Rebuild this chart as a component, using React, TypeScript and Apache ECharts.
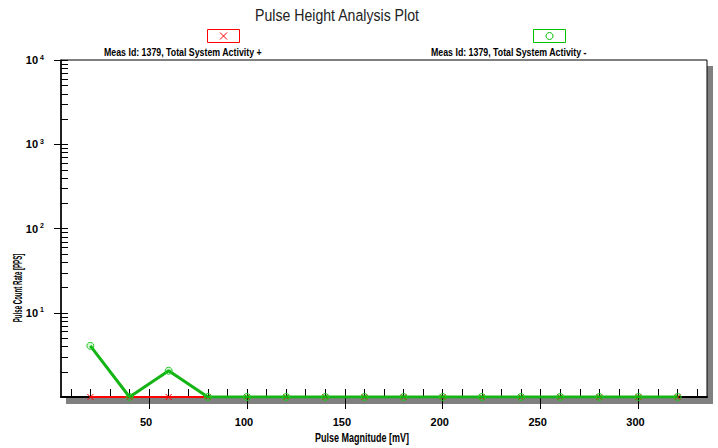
import React, { useEffect, useRef } from 'react';
import * as echarts from 'echarts';

const chartTitle = 'Pulse Height Analysis Plot';
const positiveName = 'Meas Id: 1379, Total System Activity +';
const negativeName = 'Meas Id: 1379, Total System Activity -';
const xAxisTitle = 'Pulse Magnitude [mV]';
const yAxisTitle = 'Pulse Count Rate [PPS]';

const pulseMagnitudes = [20, 40, 60, 80, 100, 120, 140, 160, 180, 200, 220, 240, 260, 280, 300, 320];
const positiveRates = [1, 1, 1, 1, 1, 1, 1, 1, 1, 1, 1, 1, 1, 1, 1, 1];
const negativeRates = [4.05, 1, 2.05, 1, 1, 1, 1, 1, 1, 1, 1, 1, 1, 1, 1, 1];

const xMajorTicks = [50, 100, 150, 200, 250, 300];
const xMinorTicks = [10, 20, 30, 40, 50, 60, 70, 80, 90, 100, 110, 120, 130, 140, 150, 160, 170, 180, 190, 200, 210, 220, 230, 240, 250, 260, 270, 280, 290, 300, 310, 320, 330];
const yDecades = [1, 10, 100, 1000, 10000];
const yMinorMultipliers = [2, 3, 4, 5, 6, 7, 8, 9];

const X_MIN = 5;
const X_MAX = 335;
const FONT = "'Liberation Sans', Arial, sans-serif";

const GRID = { left: 61, top: 60, width: 646, height: 337 };

export default function App() {
  const ref = useRef<HTMLDivElement>(null);
  useEffect(() => {
    const chart = echarts.init(ref.current!, null, { renderer: 'svg' });
    const yMinorValues: number[] = [];
    yDecades.slice(0, -1).forEach((d) => yMinorMultipliers.forEach((m) => yMinorValues.push(d * m)));

    const option: any = {
      animation: false,
      backgroundColor: '#fff',
      grid: {
        ...GRID,
        show: true,
        backgroundColor: '#fff',
        borderColor: '#000',
        borderWidth: 1,
        containLabel: false,
      },
      xAxis: [
        {
          type: 'value',
          min: X_MIN,
          max: X_MAX,
          position: 'bottom',
          axisLine: { show: true, lineStyle: { color: '#000', width: 2 } },
          axisTick: { show: true, inside: false, length: 12, customValues: xMajorTicks, lineStyle: { color: '#000', width: 1 } },
          axisLabel: {
            show: true,
            customValues: xMajorTicks,
            margin: 19,
            color: '#000',
            fontFamily: FONT,
            fontSize: 11,
            fontWeight: 'bold',
            padding: [0, 6, 0, 0],
          },
          splitLine: { show: false },
        },
        {
          type: 'value',
          min: X_MIN,
          max: X_MAX,
          position: 'bottom',
          axisLine: { show: false },
          axisTick: { show: true, inside: true, length: 8, customValues: xMinorTicks, lineStyle: { color: '#000', width: 1 } },
          axisLabel: { show: false },
          splitLine: { show: false },
        },
      ],
      yAxis: [
        {
          type: 'log',
          logBase: 10,
          min: 1,
          max: 10000,
          position: 'left',
          axisLine: { show: true, lineStyle: { color: '#000', width: 1.5 } },
          axisTick: { show: true, inside: false, length: 7, lineStyle: { color: '#000', width: 1 } },
          axisLabel: {
            show: true,
            margin: 17,
            showMinLabel: false,
            formatter: (v: number) => (v <= 1 ? '' : `{b|10}{s|${Math.round(Math.log10(v))}}`),
            rich: {
              b: { fontFamily: FONT, fontSize: 11, fontWeight: 'bold', color: '#000' },
              s: { fontFamily: FONT, fontSize: 7, fontWeight: 'bold', color: '#000', verticalAlign: 'top', padding: [0, 0, 6, 2] },
            },
          },
          splitLine: { show: false },
        },
        {
          type: 'log',
          logBase: 10,
          min: 1,
          max: 10000,
          position: 'left',
          axisLine: { show: false },
          axisTick: { show: true, inside: true, length: 7, lineStyle: { color: '#000', width: 1 } },
          axisLabel: { show: false },
          splitLine: { show: false },
        },
      ],
      graphic: [
        { type: 'rect', z: -1, shape: { x: GRID.left + 5, y: GRID.top + 6, width: GRID.width + 1, height: GRID.height + 1 }, style: { fill: '#808080' } },
        { type: 'text', x: 337, y: 15, scaleX: 0.83, style: { text: chartTitle, fontFamily: FONT, fontSize: 17, fill: '#222', align: 'center', verticalAlign: 'middle' } },
        { type: 'rect', shape: { x: 207.5, y: 29.5, width: 32, height: 13 }, style: { fill: 'none', stroke: '#ff0000', lineWidth: 1 } },
        { type: 'line', shape: { x1: 220, y1: 32.5, x2: 227, y2: 39.5 }, style: { stroke: '#ff0000', lineWidth: 1 } },
        { type: 'line', shape: { x1: 227, y1: 32.5, x2: 220, y2: 39.5 }, style: { stroke: '#ff0000', lineWidth: 1 } },
        { type: 'rect', shape: { x: 533.5, y: 29.5, width: 32, height: 13 }, style: { fill: 'none', stroke: '#00c000', lineWidth: 1 } },
        { type: 'circle', shape: { cx: 549.5, cy: 36, r: 3.5 }, style: { fill: 'none', stroke: '#00c000', lineWidth: 1 } },
        { type: 'text', x: 104, y: 52, scaleX: 0.8, style: { text: positiveName, fontFamily: FONT, fontSize: 11, fontWeight: 'bold', fill: '#000', verticalAlign: 'middle' } },
        { type: 'text', x: 431, y: 52, scaleX: 0.8, style: { text: negativeName, fontFamily: FONT, fontSize: 11, fontWeight: 'bold', fill: '#000', verticalAlign: 'middle' } },
        { type: 'text', x: 362, y: 437, scaleX: 0.75, style: { text: xAxisTitle, fontFamily: FONT, fontSize: 12, fontWeight: 'bold', fill: '#000', align: 'center', verticalAlign: 'middle' } },
        { type: 'text', x: 18, y: 288, rotation: Math.PI / 2, scaleX: 0.47, style: { text: yAxisTitle, fontFamily: FONT, fontSize: 13, fontWeight: 'bold', fill: '#000', align: 'center', verticalAlign: 'middle' } },
      ],
      series: [
        {
          type: 'custom',
          name: 'yMinorTicks',
          xAxisIndex: 0,
          yAxisIndex: 0,
          silent: true,
          clip: false,
          z: 3,
          data: yMinorValues.map((v) => [X_MIN, v]),
          renderItem: (params: any, api: any) => {
            const p = api.coord([api.value(0), api.value(1)]);
            return {
              type: 'line',
              shape: { x1: p[0], y1: Math.round(p[1]) + 0.5, x2: p[0] + 7, y2: Math.round(p[1]) + 0.5 },
              style: { stroke: '#000', lineWidth: 1 },
            };
          },
        },
        {
          type: 'line',
          name: positiveName,
          xAxisIndex: 0,
          yAxisIndex: 0,
          clip: true,
          data: pulseMagnitudes.map((x, i) => [x, positiveRates[i]]),
          symbol: 'path://M0,0L10,10M10,0L0,10',
          symbolSize: 6,
          itemStyle: { color: '#ff0000', borderColor: '#ff0000', borderWidth: 1 },
          lineStyle: { color: '#ff0000', width: 2 },
          z: 4,
        },
        {
          type: 'line',
          name: negativeName,
          xAxisIndex: 0,
          yAxisIndex: 0,
          clip: true,
          data: pulseMagnitudes.map((x, i) => [x, negativeRates[i]]),
          symbol: 'circle',
          symbolSize: 7,
          itemStyle: { color: 'rgba(0,200,0,0.15)', borderColor: '#22c822', borderWidth: 1 },
          lineStyle: { color: '#14b414', width: 3 },
          z: 5,
        },
      ],
    };
    chart.setOption(option);
    return () => chart.dispose();
  }, []);
  return <div ref={ref} style={{ position: 'fixed', left: 0, top: 0, width: 718, height: 448, background: '#fff' }} />;
}
